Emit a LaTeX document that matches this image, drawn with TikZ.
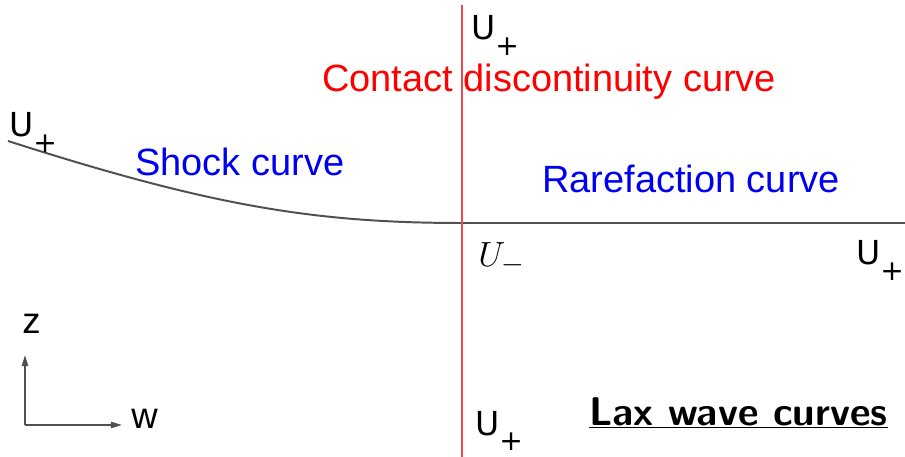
\documentclass[tikz,border=0pt]{standalone}
\usepackage{fontspec}
\setmainfont{Liberation Sans}
\newfontfamily\ufont{DejaVu Sans}
\usepackage{tikz}
\usetikzlibrary{arrows.meta, positioning, calc}
\definecolor{wavegray}{HTML}{505050}
\definecolor{contactred}{HTML}{F04848}
\definecolor{txtred}{HTML}{FF0000}
\definecolor{txtblue}{HTML}{0000F0}

% U with a lowered plus
\newcommand{\Upl}{{\ufont U\raisebox{-11pt}{\fontsize{20}{20}\selectfont +}}}

\begin{document}
\begin{tikzpicture}[x=0.025cm, y=-0.025cm,
    wave/.style={draw=wavegray, line width=1.4pt},
    axis/.style={draw=wavegray, line width=1.3pt, -{Triangle[length=8pt,width=4.5pt]}},
    ulbl/.style={anchor=base west, inner sep=0pt, font=\fontsize{23.5}{26}\selectfont},
    curvelbl/.style={anchor=base west, inner sep=0pt, text=#1, font=\fontsize{27}{30}\selectfont}
]
\useasboundingbox (0,0) rectangle (905,457);

% the two wave curves through U_-
\coordinate (ctr) at (462,223);
\coordinate (lft) at (8,141);
\coordinate (rgt) at (905,223);
\coordinate (ctop) at (462,5);
\coordinate (cbot) at (462,457);
\draw[wave] (lft) .. controls (208,205) and (312,223) .. (ctr) -- (rgt);
\draw[draw=contactred, line width=1.3pt] (ctop) -- (cbot);

% labels
\node[ulbl] (utop)   at (471,40)  {\Upl};
\node[ulbl] (uleft)  at (9,137)   {\Upl};
\node[ulbl] (uright) at (856,265) {\Upl};
\node[ulbl] (ubot)   at (475,435) {\Upl};
\node[anchor=base west, inner sep=0pt, font=\fontsize{30}{34}\selectfont] (uminus) at (478,267) {$U_-$};

\node[curvelbl=txtred]  (contact) at (322,92)  {Contact discontinuity curve};
\node[curvelbl=txtblue] (shock)   at (135,176) {Shock curve};
\node[curvelbl=txtblue] (rare)    at (542,193) {Rarefaction curve};

% axes
\coordinate (orig) at (25,425);
\coordinate (zend) at (25,355);
\coordinate (wend) at (122,425);
\draw[axis] (orig) -- (zend);
\draw[axis] (orig) -- (wend);
\node[anchor=base west, inner sep=0pt, font=\fontsize{26}{30}\selectfont] (zlbl) at (22,334) {z};
\node[anchor=base west, inner sep=0pt, font=\fontsize{26}{30}\selectfont] (wlbl) at (131,428) {w};

\node[anchor=base west, inner sep=0pt, font=\fontsize{28.5}{30}\selectfont\sffamily\bfseries] (title) at (589,425) {\underline{Lax wave curves}};
\end{tikzpicture}
\end{document}
